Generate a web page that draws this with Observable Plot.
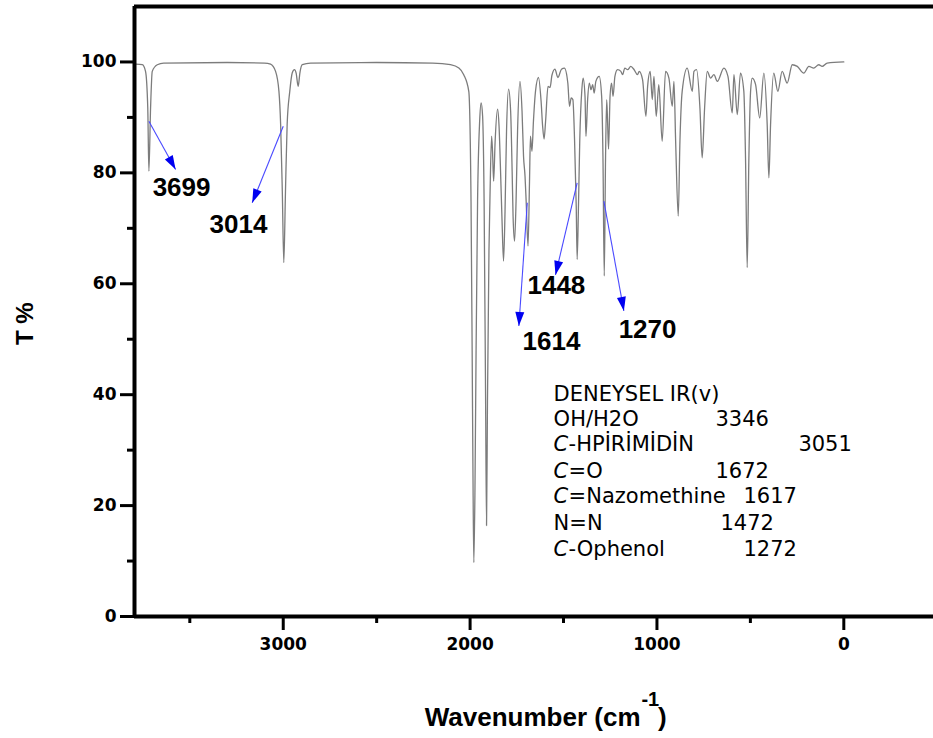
<!DOCTYPE html>
<html><head><meta charset="utf-8">
<script src="https://cdn.jsdelivr.net/npm/d3@7"></script>
<script src="https://cdn.jsdelivr.net/npm/@observablehq/plot@0.6"></script>
<style>body{margin:0;background:#fff}</style>
</head><body><div id="chart"></div>
<script>
// IR spectrum: [wavenumber cm-1, T %]
const spectrumPoints = [
[3790,99.6],[3754,99.5],[3737,98.3],[3725,91.7],[3719,80.3],[3710,91.7],[3701,98.3],[3674,99.5],[3640,99.8],
[3300,99.9],[3100,99.8],[3068,99.6],[3041,98.3],[3023,94.7],[3014,88.8],[3005,76.7],[2997,63.8],[2988,76.7],
[2979,88.8],[2965,94.7],[2952,98.0],[2940,98.6],[2931,98.0],[2920,95.6],[2911,98.0],[2898,99.5],[2854,99.8],
[2500,99.9],[2200,99.8],[2105,99.5],[2060,98.9],[2034,97.7],[2007,94.7],[1995,74.9],[1989,47.9],[1984,22.7],
[1980,9.7],[1974,22.7],[1968,47.9],[1960,74.9],[1949,89.2],[1941,92.6],[1933,90.2],[1925,74.9],[1917,38.9],
[1912,16.4],[1907,38.9],[1899,65.9],[1894,74.9],[1885,86.6],[1880,83.9],[1874,78.5],[1866,85.7],[1853,91.5],
[1845,88.4],[1837,80.3],[1829,71.3],[1821,64.1],[1813,73.1],[1805,87.5],[1794,95.1],[1783,91.1],[1775,80.3],
[1770,72.2],[1762,67.7],[1754,74.9],[1746,87.5],[1733,96.5],[1722,91.1],[1714,83.0],[1706,79.4],[1700,74.9],
[1690,66.8],[1682,78.5],[1677,86.6],[1669,83.9],[1661,89.3],[1650,94.7],[1634,97.2],[1620,92.9],[1612,88.5],
[1604,86.1],[1596,89.3],[1583,95.6],[1572,95.4],[1562,97.6],[1546,98.7],[1530,97.2],[1511,98.7],[1495,98.9],
[1477,96.2],[1468,92.0],[1459,93.5],[1450,93.2],[1441,86.0],[1432,74.0],[1427,64.4],[1420,74.0],[1413,86.0],
[1402,95.0],[1395,97.1],[1385,93.8],[1380,86.6],[1371,93.2],[1362,96.2],[1353,95.0],[1344,95.9],[1336,94.4],
[1327,96.5],[1309,97.4],[1296,93.8],[1289,83.0],[1282,61.4],[1275,83.0],[1269,93.2],[1264,89.0],[1259,84.3],
[1251,93.8],[1243,96.2],[1235,93.8],[1225,97.4],[1211,98.6],[1193,98.3],[1184,97.7],[1172,98.9],[1157,98.6],
[1140,99.2],[1122,98.6],[1104,97.7],[1095,98.3],[1077,96.8],[1059,90.2],[1050,95.6],[1036,98.3],[1025,93.2],
[1016,97.4],[1004,90.2],[990,95.9],[972,85.7],[954,98.3],[936,97.1],[918,92.0],[909,96.5],[900,85.7],
[886,72.2],[877,85.7],[865,94.7],[838,98.9],[811,94.7],[802,98.3],[788,98.6],[770,91.7],[758,82.7],
[745,91.7],[731,98.3],[713,97.1],[695,97.7],[677,96.5],[642,98.9],[620,97.4],[597,90.8],[588,97.7],
[570,90.5],[553,98.0],[535,94.7],[526,82.7],[517,62.9],[508,82.7],[499,94.7],[490,97.1],[472,95.9],
[450,89.9],[428,98.0],[410,88.7],[401,79.1],[392,88.7],[375,98.0],[353,94.7],[330,98.3],[303,96.2],
[276,99.5],[249,99.2],[214,98.0],[187,99.2],[161,98.9],[134,99.5],[116,99.2],[89,99.8],[0,100]
];

// axes
const xDomain = [3796, -480];
const yDomain = [0, 110];
const xMajor = [3000, 2000, 1000, 0];
const xMinor = [3500, 2500, 1500, 500];
const yMajor = [0, 20, 40, 60, 80, 100];
const yMinor = [10, 30, 50, 70, 90];

// peak annotations
const peakLabels = ["3699", "3014", "1448", "1614", "1270"];
const peakLabelWn = [3699, 3394, 1693, 1719, 1205];
const peakLabelT = [77.4, 70.6, 59.6, 49.5, 51.7];
const arrowFromWn = [3719, 3000, 1427, 1694, 1284];
const arrowFromT = [89.3, 88.4, 78.2, 74.6, 74.9];
const arrowToWn = [3576, 3166, 1543, 1739, 1177];
const arrowToT = [80.6, 74.6, 61.6, 52.4, 55.1];

// legend table
const legendPrefix = ["", "", "C", "C", "C", "", "C"];
const legendNames = ["DENEYSEL IR(v)", "OH/H2O", "-HPİRİMİDİN", "=O", "=Nazomethine", "N=N", "-Ophenol"];
const legendValues = ["", "3346", "3051", "1672", "1617", "1472", "1272"];
const legendValueWn = [0, 687, 243, 687, 537, 660, 537];
const legendRowT = [40.1, 35.6, 31.1, 26.2, 21.7, 16.8, 12.2];
const legendLeftWn = 1553;

const spectrum = spectrumPoints.map(([wn, t]) => ({wn, t}));
const peaks = peakLabels.map((label, i) => ({label, wn: peakLabelWn[i], t: peakLabelT[i]}));
const arrows = arrowFromWn.map((w, i) => ({x1: w, y1: arrowFromT[i], x2: arrowToWn[i], y2: arrowToT[i]}));
const legend = legendNames.map((name, i) => ({prefix: legendPrefix[i], name, value: legendValues[i], vwn: legendValueWn[i], t: legendRowT[i]}));

function filledArrow(color, context) {
  const ns = "http://www.w3.org/2000/svg";
  const doc = context.document;
  const m = doc.createElementNS(ns, "marker");
  m.setAttribute("viewBox", "-15 -5 16 10");
  m.setAttribute("markerWidth", 16);
  m.setAttribute("markerHeight", 10);
  m.setAttribute("markerUnits", "userSpaceOnUse");
  m.setAttribute("orient", "auto");
  m.setAttribute("refX", 0);
  m.setAttribute("refY", 0);
  const p = doc.createElementNS(ns, "path");
  p.setAttribute("d", "M-14,-4.5L0,0L-14,4.5Z");
  p.setAttribute("fill", "#0000f0");
  p.setAttribute("stroke", "none");
  m.appendChild(p);
  return m;
}

const tickFont = {fontSize: 17, fontWeight: "bold", fontFamily: "DejaVu Sans", tickFormat: d => String(d)};
const legendFont = {fontSize: 21, fontFamily: "DejaVu Sans", fill: "#000", textAnchor: "start"};

function build(marker) {
  return Plot.plot({
    width: 933, height: 738,
    marginLeft: 134, marginRight: 0, marginTop: 6, marginBottom: 122,
    style: {background: "#fff", color: "#000", overflow: "visible"},
    x: {domain: xDomain, axis: null},
    y: {domain: yDomain, axis: null},
    marks: [
      Plot.axisX(xMajor, {anchor: "bottom", tickSize: 14, tickPadding: 7, strokeWidth: 3, label: null, ...tickFont}),
      Plot.axisX(xMinor, {anchor: "bottom", tickSize: 7, strokeWidth: 3, label: null, tickFormat: () => ""}),
      Plot.axisY(yMajor, {anchor: "left", tickSize: 14, tickPadding: 4, strokeWidth: 3, label: null, ...tickFont}),
      Plot.axisY(yMinor, {anchor: "left", tickSize: 7, strokeWidth: 3, label: null, tickFormat: () => ""}),
      Plot.line(spectrum, {x: "wn", y: "t", stroke: "#7c7c7c", strokeWidth: 1.3, curve: "monotone-x"}),
      Plot.ruleY([0, 110], {stroke: "#000", strokeWidth: 4}),
      Plot.ruleX([xDomain[0]], {stroke: "#000", strokeWidth: 4}),
      Plot.link(arrows, {x1: "x1", y1: "y1", x2: "x2", y2: "y2", stroke: "#4a4aff", strokeWidth: 1.1, markerEnd: marker}),
      Plot.text(peaks, {x: "wn", y: "t", text: "label", textAnchor: "start", fontSize: 26, fontWeight: "bold", fontFamily: "Liberation Sans", fill: "#000"}),
      Plot.text(legend.filter(d => d.prefix), {x: () => legendLeftWn, y: "t", text: "prefix", fontStyle: "italic", ...legendFont}),
      Plot.text(legend.filter(d => d.prefix), {x: () => legendLeftWn, y: "t", text: "name", dx: 15, ...legendFont}),
      Plot.text(legend.filter(d => !d.prefix), {x: () => legendLeftWn, y: "t", text: "name", ...legendFont}),
      Plot.text(legend.filter(d => d.value), {x: "vwn", y: "t", text: "value", ...legendFont}),
      // axis titles
      Plot.text(["Wavenumber (cm"], {x: () => 1088, y: () => -18.2, textAnchor: "end", fontSize: 26, fontWeight: "bold", fontFamily: "Liberation Sans", fill: "#000"}),
      Plot.text(["-1"], {x: () => 1083, y: () => -15.0, textAnchor: "start", fontSize: 20, fontWeight: "bold", fontFamily: "Liberation Sans", fill: "#000"}),
      Plot.text([")"], {x: () => 995, y: () => -18.2, textAnchor: "start", fontSize: 26, fontWeight: "bold", fontFamily: "Liberation Sans", fill: "#000"}),
      Plot.text(["T %"], {x: () => 4379, y: () => 52.8, rotate: -90, fontSize: 24, fontWeight: "bold", fontFamily: "Liberation Sans", fill: "#000"})
    ]
  });
}

let chart;
try { chart = build(filledArrow); } catch (e) { chart = build("arrow"); }
document.getElementById("chart").appendChild(chart);
</script></body></html>
